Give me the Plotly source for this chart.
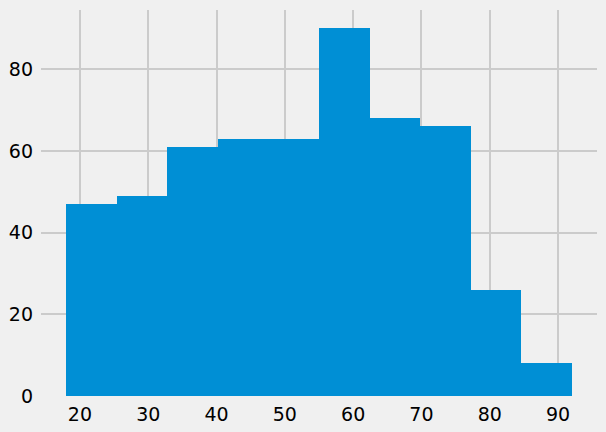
import plotly.graph_objects as go

bin_edges = [18.0, 25.4, 32.8, 40.2, 47.6, 55.0, 62.4, 69.8, 77.2, 84.6, 92.0]
counts = [47, 49, 61, 63, 63, 90, 68, 66, 26, 8]
x_ticks = [20, 30, 40, 50, 60, 70, 80, 90]
y_ticks = [0, 20, 40, 60, 80]

centers = [(bin_edges[i] + bin_edges[i + 1]) / 2 for i in range(len(counts))]
widths = [bin_edges[i + 1] - bin_edges[i] for i in range(len(counts))]

fig = go.Figure(go.Bar(x=centers, y=counts, width=widths,
                       marker=dict(color="#008fd5", line=dict(width=0))))

span = bin_edges[-1] - bin_edges[0]
fig.update_layout(
    width=606, height=432,
    margin=dict(l=41, r=9, t=10, b=36, autoexpand=False),
    paper_bgcolor="#f0f0f0", plot_bgcolor="#f0f0f0",
    font=dict(family="DejaVu Sans", size=19, color="#000000"),
    showlegend=False, bargap=0,
)
fig.update_xaxes(range=[bin_edges[0] - 0.05 * span, bin_edges[-1] + 0.05 * span],
                 tickvals=x_ticks, showgrid=True, gridcolor="#cbcbcb", gridwidth=1.5,
                 zeroline=False, showline=False, ticks="", ticklabelstandoff=5,
                 automargin=False)
fig.update_yaxes(range=[0, max(counts) * 1.05], tickvals=y_ticks,
                 showgrid=True, gridcolor="#cbcbcb", gridwidth=1.5,
                 zeroline=False, showline=False, ticks="", ticklabelstandoff=7,
                 automargin=False)
fig.write_html("out.html", config={"displayModeBar": False},
               post_script="document.body.style.margin='0';document.body.style.background='#f0f0f0';")
